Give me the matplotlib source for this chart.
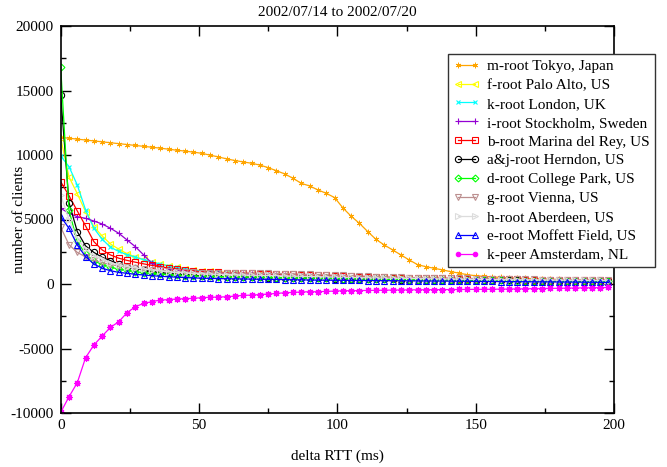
import matplotlib
matplotlib.use("Agg")
import matplotlib.pyplot as plt
import numpy as np
from matplotlib.ticker import MultipleLocator

plt.rcParams['font.family'] = ['Liberation Serif', 'DejaVu Serif']
plt.rcParams['axes.unicode_minus'] = False

title = "2002/07/14 to 2002/07/20"
xlabel = "delta RTT (ms)"
ylabel = "number of clients"

rtt = list(range(0, 199, 3))

labels = [
    "m-root Tokyo, Japan",
    "f-root Palo Alto, US",
    "k-root London, UK",
    "i-root Stockholm, Sweden",
    "b-root Marina del Rey, US",
    "a&j-root Herndon, US",
    "d-root College Park, US",
    "g-root Vienna, US",
    "h-root Aberdeen, US",
    "e-root Moffett Field, US",
    "k-peer Amsterdam, NL",
]

m_root = [11370, 11300, 11230, 11160, 11090, 11020, 10950, 10880, 10810, 10740,
          10670, 10600, 10530, 10450, 10370, 10300, 10220, 10130, 9990, 9850,
          9700, 9570, 9460, 9360, 9220, 9020, 8780, 8530, 8190, 7800,
          7600, 7290, 7030, 6700, 5900, 5250, 4700, 4060, 3450, 3020,
          2640, 2250, 1860, 1500, 1340, 1220, 1090, 960, 840, 720,
          640, 590, 550, 510, 480, 450, 430, 410, 390, 370,
          350, 340, 330, 320, 310, 300, 290]

f_root = [11300, 8300, 7000, 5600, 4440, 3720, 3100, 2700, 2350, 2100, 1900, 1720, 1560, 1420, 1300, 1200, 1110,
          1040, 980, 930, 880, 840, 800, 770, 740, 710, 685, 660, 640, 620, 600, 580, 560, 540, 520, 500, 480,
          465, 450, 435, 420, 405, 395, 385, 375, 365, 355, 345, 335, 325, 315, 305, 300, 295, 290, 285, 280,
          275, 270, 265, 260, 255, 250, 245, 240, 235, 230]

k_root = [9920, 9100, 7670, 5740, 4320, 3470, 2850, 2520, 2270, 2080, 1880, 1700, 1540, 1400, 1280, 1180, 1090,
          1010, 950, 900, 860, 820, 790, 760, 735, 710, 690, 670, 650, 630, 610, 590, 570, 550, 530, 510, 490,
          470, 455, 440, 425, 410, 400, 390, 380, 370, 360, 350, 340, 330, 320, 310, 300, 295, 290, 285, 280,
          275, 270, 265, 260, 255, 250, 245, 240, 235, 230]

i_root = [5870, 5480, 5220, 5090, 4880, 4650, 4320, 3930, 3410, 2890, 2250, 1600, 1350, 1200, 1100, 1010, 950,
          900, 860, 830, 800, 780, 760, 740, 720, 700, 680, 660, 640, 620, 600, 580, 560, 540, 520, 500, 485,
          470, 455, 440, 425, 410, 400, 390, 380, 370, 360, 350, 340, 330, 320, 310, 300, 290, 280, 275, 270,
          265, 260, 255, 250, 245, 240, 235, 230, 225, 220]

b_root = [7930, 6850, 5660, 4500, 3280, 2640, 2250, 2000, 1830, 1690, 1560, 1440, 1340, 1240, 1170, 1090, 1020,
          950, 920, 900, 880, 860, 840, 820, 800, 790, 780, 760, 740, 720, 700, 680, 660, 640, 620, 600, 580,
          560, 540, 520, 500, 490, 480, 470, 460, 450, 440, 430, 420, 410, 400, 390, 380, 370, 360, 350, 340,
          330, 320, 310, 300, 295, 290, 285, 280, 275, 270]

aj_root = [14630, 6300, 4060, 2950, 2450, 2070, 1810, 1550, 1340, 1220, 1090, 950, 880, 820, 760, 710, 670,
           630, 610, 590, 570, 555, 540, 525, 510, 500, 490, 480, 470, 460, 450, 440, 430, 420, 410, 400, 390,
           380, 370, 360, 350, 345, 340, 335, 330, 325, 320, 315, 310, 305, 300, 295, 290, 285, 280, 275, 270,
           265, 260, 255, 250, 245, 240, 235, 230, 225, 220]

d_root = [16800, 5700, 3300, 2300, 1800, 1500, 1300, 1150, 1050, 950, 880, 820, 770, 720, 680, 650, 620,
          600, 585, 570, 560, 550, 540, 530, 520, 510, 500, 490, 480, 470, 460, 450, 440, 430, 420, 410, 400,
          390, 380, 370, 360, 350, 340, 330, 320, 315, 310, 305, 300, 295, 290, 285, 280, 275, 270, 265, 260,
          255, 250, 245, 240, 235, 230, 225, 220, 215, 210]

g_root = [4400, 3050, 2450, 2100, 1850, 1650, 1500, 1400, 1310, 1230, 1160, 1100, 1050, 1000, 960, 930, 900,
          880, 870, 860, 850, 845, 840, 835, 830, 820, 810, 800, 780, 760, 740, 720, 700, 680, 660, 640, 620,
          600, 580, 560, 540, 520, 500, 490, 480, 470, 460, 450, 440, 430, 420, 410, 400, 390, 380, 370, 360,
          350, 340, 330, 320, 315, 310, 305, 300, 295, 290]

h_root = [6900, 5000, 3500, 2700, 2200, 1900, 1650, 1480, 1350, 1250, 1160, 1080, 1010, 950, 900, 860, 820,
          790, 770, 750, 735, 720, 705, 690, 675, 660, 645, 630, 615, 600, 585, 570, 555, 540, 525, 510, 495,
          480, 470, 460, 450, 440, 430, 420, 410, 400, 390, 380, 370, 360, 350, 345, 340, 335, 330, 325, 320,
          315, 310, 305, 300, 295, 290, 285, 280, 275, 270]

e_root = [5220, 4320, 3020, 2120, 1550, 1220, 1030, 900, 830, 750, 700, 640, 600, 560, 530, 500, 470,
          450, 435, 420, 410, 400, 390, 380, 370, 360, 350, 340, 330, 320, 310, 300, 295, 290, 285, 280, 275,
          270, 265, 260, 255, 250, 245, 240, 235, 230, 225, 220, 215, 210, 205, 200, 195, 190, 185, 180, 175,
          170, 165, 160, 155, 150, 145, 140, 135, 130, 125]

k_peer = [-9950, -8740, -7650, -5710, -4730, -4030, -3360, -2920, -2220, -1760, -1500, -1370, -1240, -1215,
          -1160, -1140, -1110, -1060, -1030, -1010, -990, -930, -880, -860, -820, -780, -730, -680, -650, -620,
          -600, -600, -570, -550, -520, -520, -510, -500, -490, -480, -470, -460, -455, -450, -445, -440, -435,
          -430, -425, -420, -415, -410, -405, -400, -390, -380, -370, -360, -350, -340, -330, -320, -310, -300,
          -290, -280, -270]

series = [m_root, f_root, k_root, i_root, b_root, aj_root, d_root, g_root, h_root, e_root, k_peer]

styles = [
    dict(color='#ffa500', marker=(6, 2, 0), mfc='#ffa500', ms=4, mew=0.6),
    dict(color='#ffff00', marker='<', mfc='none', ms=4.5, mew=0.8),
    dict(color='#00ffff', marker='x', mfc='none', ms=3.5, mew=0.8),
    dict(color='#9400d3', marker='+', mfc='none', ms=5, mew=0.8),
    dict(color='#ff0000', marker='s', mfc='none', ms=4, mew=0.8),
    dict(color='#000000', marker='o', mfc='none', ms=4.5, mew=0.8),
    dict(color='#00ff00', marker='D', mfc='none', ms=3.5, mew=0.8),
    dict(color='#bc8f8f', marker='v', mfc='none', ms=4.5, mew=0.8),
    dict(color='#dcdcdc', marker='>', mfc='none', ms=4.5, mew=0.8),
    dict(color='#0000ff', marker='^', mfc='none', ms=4.5, mew=0.8),
    dict(color='#ff00ff', marker='o', mfc='#ff00ff', ms=3.2, mew=0.8),
]

fig = plt.figure(figsize=(6.67, 4.67), dpi=100)
ax = fig.add_axes([60.7 / 667, 1 - 413 / 467, (614 - 60.7) / 667, (413 - 26) / 467])

x = np.array(rtt)
for vals, lab, st in zip(series, labels, styles):
    ax.plot(x, vals, label=lab, lw=0.9, **st)
    if lab.startswith('k-peer'):
        ax.plot(x, vals, ls='none', marker=(8, 2, 0), color='#ff00ff', ms=5, mew=0.7, label='_nolegend_')

ax.set_xlim(0, 200)
ax.set_ylim(-10000, 20000)
ax.xaxis.set_major_locator(MultipleLocator(50))
ax.xaxis.set_minor_locator(MultipleLocator(25))
ax.yaxis.set_major_locator(MultipleLocator(5000))
ax.yaxis.set_minor_locator(MultipleLocator(2500))
ax.tick_params(which='both', direction='in', top=True, right=True, labelsize=11, width=1)
ax.tick_params(which='major', length=7)
ax.tick_params(which='minor', length=3.5)
ax.tick_params(axis='y', pad=5)
ax.tick_params(axis='x', pad=4)
for sp in ax.spines.values():
    sp.set_linewidth(1.2)

ax.set_title(title, fontsize=11, pad=7)
ax.set_xlabel(xlabel, fontsize=11)
ax.xaxis.set_label_coords(0.5, -0.095)
ax.xaxis.label.set_va('top')
ax.set_ylabel(ylabel, fontsize=11)
ax.yaxis.set_label_coords(-0.063, 0.5)

leg = ax.legend(loc='upper left', bbox_to_anchor=(448 / 667, 1 - 54 / 467),
                bbox_transform=fig.transFigure, borderaxespad=0, fontsize=11,
                frameon=True, fancybox=False, framealpha=1, edgecolor='#333333',
                labelspacing=0.34, borderpad=0.35, handlelength=1.7, handletextpad=0.5,
                numpoints=2)
leg.get_frame().set_linewidth(1.0)

fig.savefig("out.png", dpi=100)
